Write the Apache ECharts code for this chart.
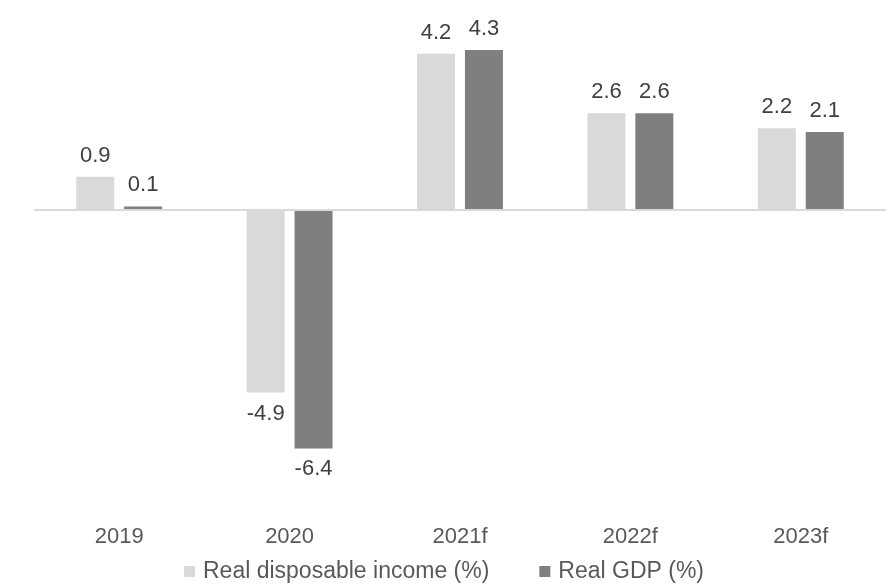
<!DOCTYPE html>
<html>
<head>
<meta charset="utf-8">
<script src="https://cdn.jsdelivr.net/npm/echarts@6/dist/echarts.min.js"></script>
<style>
  html, body { margin: 0; padding: 0; background: #fff; }
  #chart { width: 888px; height: 584px; }
</style>
</head>
<body>
<div id="chart"></div>
<script>
  // values
  const years = ['2019', '2020', '2021f', '2022f', '2023f'];
  const incomeValues = [0.9, -4.9, 4.2, 2.6, 2.2];
  const gdpValues = [0.1, -6.4, 4.3, 2.6, 2.1];
  const seriesNames = ['Real disposable income (%)', 'Real GDP (%)'];

  const font = 'Liberation Sans, Arial, sans-serif';

  // negative bars get their label underneath
  const withLabels = (values) =>
    values.map((v) => ({
      value: v,
      label: { position: v < 0 ? 'bottom' : 'top' },
    }));

  const chart = echarts.init(document.getElementById('chart'));

  const option = {
    animation: false,
    textStyle: { fontFamily: font },
    grid: {
      left: 34,
      right: 2,
      top: 24,
      bottom: 76,
    },
    legend: {
      data: seriesNames,
      top: 555,
      left: 'center',
      itemWidth: 11,
      itemHeight: 11,
      itemGap: 50,
      icon: 'rect',
      textStyle: {
        fontSize: 23,
        color: '#595959',
        fontFamily: font,
        padding: [0, 0, 0, 3],
      },
    },
    xAxis: {
      type: 'category',
      data: years,
      axisLine: { show: false },
      axisTick: { show: false },
      axisLabel: {
        fontSize: 22,
        color: '#595959',
        fontFamily: font,
        margin: 18,
      },
    },
    yAxis: {
      type: 'value',
      min: -8,
      max: 5,
      show: false,
      splitLine: { show: false },
    },
    series: [
      {
        name: seriesNames[0],
        type: 'bar',
        barWidth: 38,
        barGap: '26%',
        data: withLabels(incomeValues),
        itemStyle: { color: '#d9d9d9' },
        label: {
          show: true,
          fontSize: 22,
          color: '#404040',
          fontFamily: font,
          distance: 10,
        },
        markLine: {
          silent: true,
          symbol: 'none',
          label: { show: false },
          lineStyle: { color: '#d9d9d9', width: 2, type: 'solid' },
          data: [{ yAxis: 0 }],
        },
      },
      {
        name: seriesNames[1],
        type: 'bar',
        barWidth: 38,
        data: withLabels(gdpValues),
        itemStyle: { color: '#7f7f7f' },
        label: {
          show: true,
          fontSize: 22,
          color: '#404040',
          fontFamily: font,
          distance: 10,
        },
      },
    ],
  };

  chart.setOption(option);
</script>
</body>
</html>
